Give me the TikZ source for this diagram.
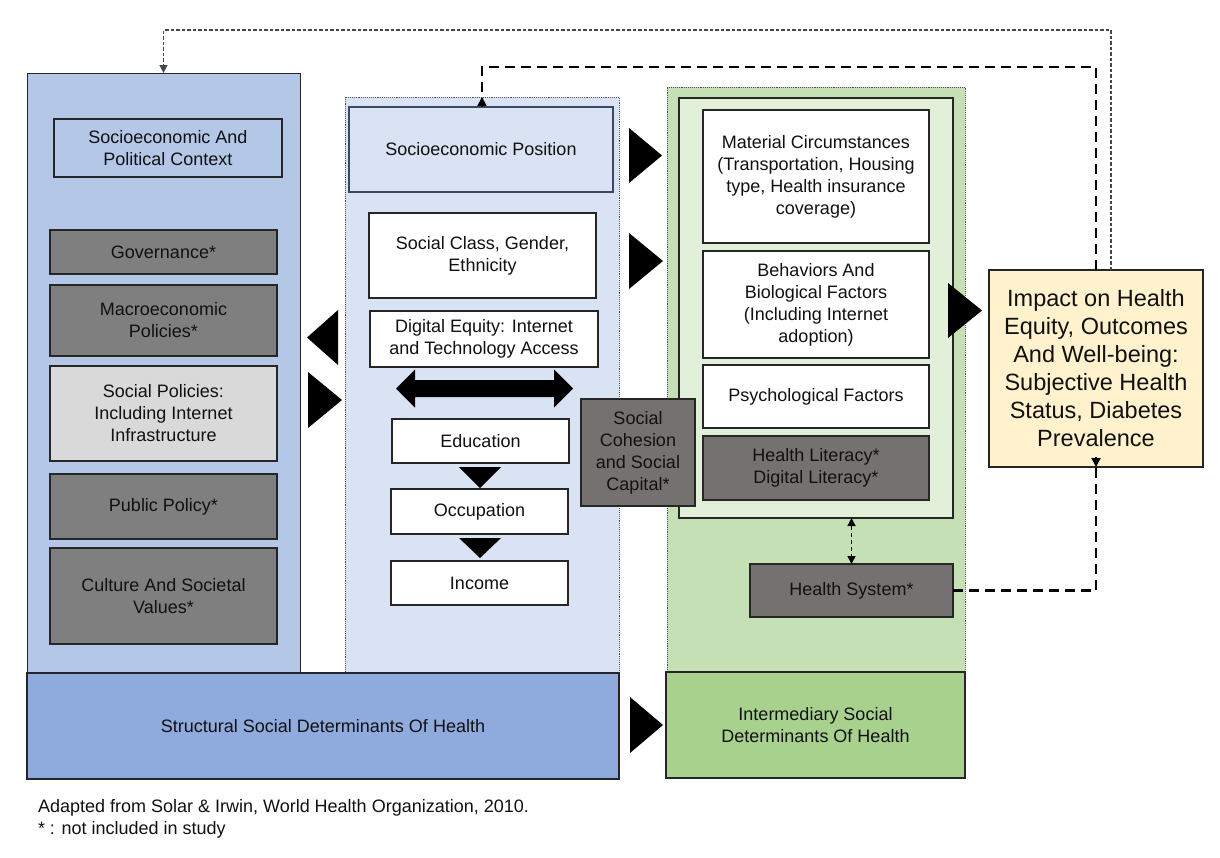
\documentclass[tikz,border=0pt]{standalone}
\usepackage{fontspec}
\setmainfont{Liberation Sans}
\usetikzlibrary{arrows.meta}
\definecolor{lblue}{HTML}{B4C7E7}
\definecolor{mblue}{HTML}{DAE3F3}
\definecolor{sblue}{HTML}{8FAADC}
\definecolor{gcolc}{HTML}{C5E0B4}
\definecolor{ginner}{HTML}{E2F0D9}
\definecolor{gint}{HTML}{A9D18E}
\definecolor{grayA}{HTML}{7F7F7F}
\definecolor{grayB}{HTML}{767171}
\definecolor{lgray}{HTML}{D9D9D9}
\definecolor{impc}{HTML}{FFF2CC}
\definecolor{bord}{HTML}{262626}
\definecolor{bordb}{HTML}{3A4A66}
\definecolor{txt}{HTML}{111111}
\begin{document}
\begin{tikzpicture}[x=1pt,y=-1pt,
  every node/.style={inner sep=0pt, outer sep=0pt, align=center, text=txt,
    font=\fontsize{18}{22}\selectfont},
  box/.style={draw=bord, line width=1.2pt, rectangle},
  col/.style={draw=bord!80, line width=0.9pt, densely dotted, rectangle},
  thinlink/.style={draw=bord!85, line width=1.2pt, dash pattern=on 3.5pt off 2pt, -{Triangle[length=8pt,width=8pt]}},
  thicklink/.style={draw=black, line width=2.8pt, dash pattern=on 10pt off 6pt},
  tip/.style={-{Triangle[length=9pt,width=9pt]}},
  blk/.style={fill=black}
]
\useasboundingbox (0,0) rectangle (1220,857);

% columns
\node[box, fill=lblue, line width=1pt, minimum width=273, minimum height=599] (lcol) at (163.5,372.5) {};
\node[col, fill=mblue, minimum width=274, minimum height=575] (mcol) at (482,384.5) {};
\node[col, fill=gcolc, minimum width=298, minimum height=585] (gcol) at (816,379.5) {};

% bottom boxes
\node[box, fill=sblue, minimum width=592, minimum height=106] (struct) at (323,726) {Structural Social Determinants Of Health};
\node[box, fill=gint, minimum width=299, minimum height=106] (interm) at (815.5,725) {Intermediary Social\\Determinants Of Health};

% left column boxes
\node[box, fill=lblue, minimum width=228, minimum height=58] (sepc) at (168,148) {Socioeconomic And\\Political Context};
\node[box, fill=grayA, minimum width=227, minimum height=44] (gov) at (163.5,252) {Governance*};
\node[box, fill=grayA, minimum width=227, minimum height=71] (macro) at (163.5,320.5) {Macroeconomic\\Policies*};
\node[box, fill=lgray, minimum width=227, minimum height=95] (socpol) at (163.5,413.5) {Social Policies:\\Including Internet\\Infrastructure};
\node[box, fill=grayA, minimum width=227, minimum height=65] (pubpol) at (163.5,506.5) {Public Policy*};
\node[box, fill=grayA, minimum width=227, minimum height=96] (culture) at (163.5,596) {Culture And Societal\\Values*};

% middle column boxes
\node[box, draw=bordb, fill=mblue, minimum width=264, minimum height=85] (sep) at (481,149.5) {Socioeconomic Position};
\node[box, fill=white, minimum width=227, minimum height=85] (socclass) at (482.5,255.5) {Social Class, Gender,\\Ethnicity};
\node[box, fill=white, minimum width=228, minimum height=56] (digeq) at (484,339) {Digital Equity: Internet\\and Technology Access};
\node[box, fill=white, minimum width=177, minimum height=44] (educ) at (480.5,441) {Education};
\node[box, fill=white, minimum width=177, minimum height=45] (occ) at (479.5,511.5) {Occupation};
\node[box, fill=white, minimum width=177, minimum height=44] (income) at (479.5,583) {Income};

% green column
\node[box, fill=ginner, minimum width=274, minimum height=420] (inner) at (816,308) {};
\node[box, fill=white, minimum width=226, minimum height=133] (material) at (816,176.5) {Material Circumstances\\(Transportation, Housing\\type, Health insurance\\coverage)};
\node[box, fill=white, minimum width=226, minimum height=107] (behav) at (816,304.5) {Behaviors And\\Biological Factors\\(Including Internet\\adoption)};
\node[box, fill=white, minimum width=226, minimum height=63] (psych) at (816,396.5) {Psychological Factors};
\node[box, fill=grayB, minimum width=226, minimum height=64] (hlit) at (816,468) {Health Literacy*\\Digital Literacy*};
\node[box, fill=grayB, minimum width=203, minimum height=53] (hsys) at (851.5,590.5) {Health System*};

% social cohesion
\node[box, fill=grayB, minimum width=114, minimum height=107] (socoh) at (638,452.5) {Social\\Cohesion\\and Social\\Capital*};

% impact
\node[box, fill=impc, minimum width=214, minimum height=197,
  font=\fontsize{23.5}{28}\selectfont] (impact) at (1096,368.5) {Impact on Health\\Equity, Outcomes\\And Well-being:\\Subjective Health\\Status, Diabetes\\Prevalence};

% block arrows (triangles)
\fill[blk] (629,128) -- (662,155.5) -- (629,183) -- cycle;
\fill[blk] (629,233) -- (663,261) -- (629,289) -- cycle;
\fill[blk] (948,283) -- (982,310.5) -- (948,338) -- cycle;
\fill[blk] (338,310) -- (307,337.5) -- (338,365) -- cycle;
\fill[blk] (308,372) -- (342,400) -- (308,428) -- cycle;
\fill[blk] (630,697) -- (663,725) -- (630,753) -- cycle;
\fill[blk] (459,467) -- (501,467) -- (480,488) -- cycle;
\fill[blk] (459,538) -- (501,538) -- (480,558) -- cycle;
% double arrow
\fill[blk] (396,388.5) -- (415,369.5) -- (415,380) -- (554,380) -- (554,369.5) -- (573,388.5)
  -- (554,407.5) -- (554,397) -- (415,397) -- (415,407.5) -- cycle;

% connectors
\draw[thinlink] ([xshift=15pt]impact.north) -- ++(0,-240) -| (lcol.north);
\draw[thicklink] (impact.north) -- ++(0,-203) -| ([yshift=-9pt]mcol.north);
\draw[tip, line width=2pt] ([yshift=-10pt]mcol.north) -- (mcol.north);
\draw[thicklink] (hsys.east) -| ([yshift=9pt]impact.south);
\draw[tip, line width=2pt] ([yshift=10pt]impact.south) -- (impact.south);
\draw[draw=black, line width=1.3pt, dash pattern=on 4pt off 3pt,
  {Triangle[length=8pt,width=8pt]}-{Triangle[length=8pt,width=8pt]}] (hsys.north |- inner.south) -- (hsys.north);

% footnote
\node[anchor=west] (fn1) at (38,808) {Adapted from Solar \& Irwin, World Health Organization, 2010.};
\node[anchor=west] (fn2) at (38,830) {* : not included in study};
\end{tikzpicture}
\end{document}
